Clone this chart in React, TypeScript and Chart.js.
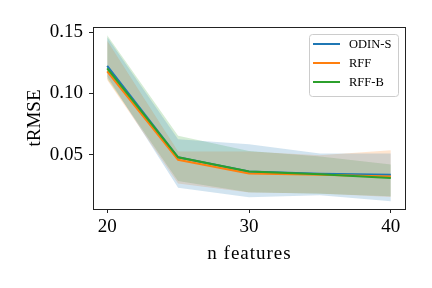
import React, { useEffect, useRef } from "react";
import { Chart, registerables } from "chart.js";

Chart.register(...registerables);

const nFeatures = [20, 25, 30, 35, 40];

const odinMean = [0.1225, 0.0478, 0.0362, 0.0345, 0.0335];
const odinLow = [0.114, 0.023, 0.0152, 0.0168, 0.012];
const odinHigh = [0.146, 0.0625, 0.0585, 0.051, 0.051];

const rffMean = [0.118, 0.0458, 0.0346, 0.0335, 0.0322];
const rffLow = [0.111, 0.0265, 0.019, 0.0182, 0.0155];
const rffHigh = [0.143, 0.0525, 0.0525, 0.0495, 0.0535];

const rffbMean = [0.1205, 0.0478, 0.0362, 0.034, 0.031];
const rffbLow = [0.112, 0.0285, 0.0192, 0.018, 0.016];
const rffbHigh = [0.1475, 0.0655, 0.053, 0.0485, 0.042];

const xTicks = [20, 30, 40];
const yTicks = [0.05, 0.1, 0.15];

const seriesNames = ["ODIN-S", "RFF", "RFF-B"];
const colors = ["#1f77b4", "#ff7f0e", "#2ca02c"];
const fills = ["rgba(31,119,180,0.2)", "rgba(255,127,14,0.2)", "rgba(44,160,44,0.2)"];

const FONT = "'Liberation Serif', 'DejaVu Serif', serif";

const pts = (ys: number[]) => nFeatures.map((x, i) => ({ x, y: ys[i] }));

export default function App() {
  const ref = useRef<HTMLCanvasElement | null>(null);

  useEffect(() => {
    document.body.style.margin = "0";
    const ctx = ref.current!.getContext("2d")!;
    const means = [odinMean, rffMean, rffbMean];
    const lows = [odinLow, rffLow, rffbLow];
    const highs = [odinHigh, rffHigh, rffbHigh];

    const datasets: any[] = [];
    for (let i = 0; i < 3; i++) {
      datasets.push({
        label: seriesNames[i],
        data: pts(means[i]),
        borderColor: colors[i],
        borderWidth: 2,
        pointRadius: 0,
        fill: false,
        order: 2 - i,
      });
    }
    for (let i = 0; i < 3; i++) {
      const lowIdx = datasets.length;
      datasets.push({
        label: "_low" + i,
        data: pts(lows[i]),
        borderWidth: 0,
        borderColor: "rgba(0,0,0,0)",
        pointRadius: 0,
        fill: false,
        order: 10,
      });
      datasets.push({
        label: "_high" + i,
        data: pts(highs[i]),
        borderWidth: 0,
        borderColor: "rgba(0,0,0,0)",
        backgroundColor: fills[i],
        pointRadius: 0,
        fill: lowIdx,
        order: 10,
      });
    }

    const overlay = {
      id: "overlay",
      afterDraw(chart: any) {
        const c = chart.ctx;
        const a = chart.chartArea;
        c.save();
        c.strokeStyle = "#222";
        c.lineWidth = 1;
        c.strokeRect(Math.round(a.left) + 0.5, Math.round(a.top) + 0.5, Math.round(a.right - a.left), Math.round(a.bottom - a.top));
        c.fillStyle = "#000";
        c.font = `19px ${FONT}`;
        c.textAlign = "center";
        c.textBaseline = "alphabetic";
        (c as any).letterSpacing = "1px";
        c.fillText("n features", (a.left + a.right) / 2 + 0.5, 259);
        (c as any).letterSpacing = "0px";
        c.save();
        c.translate(40, (a.top + a.bottom) / 2);
        c.rotate(-Math.PI / 2);
        c.fillText("tRMSE", 0, 0);
        c.restore();
        const lx = 309, ly = 34, lw = 89, lh = 62;
        c.fillStyle = "rgba(255,255,255,0.8)";
        c.strokeStyle = "#cccccc";
        c.lineWidth = 1;
        c.beginPath();
        (c as any).roundRect(lx + 0.5, ly + 0.5, lw, lh, 3);
        c.fill();
        c.stroke();
        c.font = `12.5px ${FONT}`;
        c.textAlign = "left";
        c.textBaseline = "middle";
        for (let i = 0; i < 3; i++) {
          const yy = ly + 10 + i * 19;
          c.strokeStyle = colors[i];
          c.lineWidth = 2;
          c.beginPath();
          c.moveTo(313, yy);
          c.lineTo(340, yy);
          c.stroke();
          c.fillStyle = "#000";
          c.fillText(seriesNames[i], 349, yy + 1);
        }
        c.restore();
      },
    };

    const chart = new Chart(ctx, {
      type: "line",
      data: { datasets },
      plugins: [overlay],
      options: {
        animation: false,
        responsive: false,
        maintainAspectRatio: false,
        layout: { padding: { top: 27, right: 27, left: 0, bottom: 0 } },
        plugins: {
          legend: { display: false },
          tooltip: { enabled: false },
        },
        scales: {
          x: {
            type: "linear",
            min: 19,
            max: 41,
            afterBuildTicks: (s: any) => {
              s.ticks = xTicks.map((v) => ({ value: v }));
            },
            afterFit: (s: any) => {
              s.height = 79;
            },
            ticks: {
              color: "#000",
              font: { family: FONT, size: 19 },
              padding: 3,
              maxRotation: 0,
              callback: (v: any) => String(v),
            },
            grid: { drawOnChartArea: false, drawTicks: true, tickLength: 4, color: "#222" },
            border: { display: false },
          },
          y: {
            type: "linear",
            min: 0.0056,
            max: 0.1543,
            afterBuildTicks: (s: any) => {
              s.ticks = yTicks.map((v) => ({ value: v }));
            },
            afterFit: (s: any) => {
              s.width = 93;
            },
            ticks: {
              color: "#000",
              font: { family: FONT, size: 19 },
              padding: 6,
              callback: (v: any) => Number(v).toFixed(2),
            },
            grid: { drawOnChartArea: false, drawTicks: true, tickLength: 4, color: "#222" },
            border: { display: false },
          },
        },
      },
    });
    return () => chart.destroy();
  }, []);

  return (
    <div style={{ position: "absolute", left: 0, top: 0, width: 432, height: 288, background: "#fff" }}>
      <canvas ref={ref} width={432} height={288} style={{ width: 432, height: 288 }} />
    </div>
  );
}
